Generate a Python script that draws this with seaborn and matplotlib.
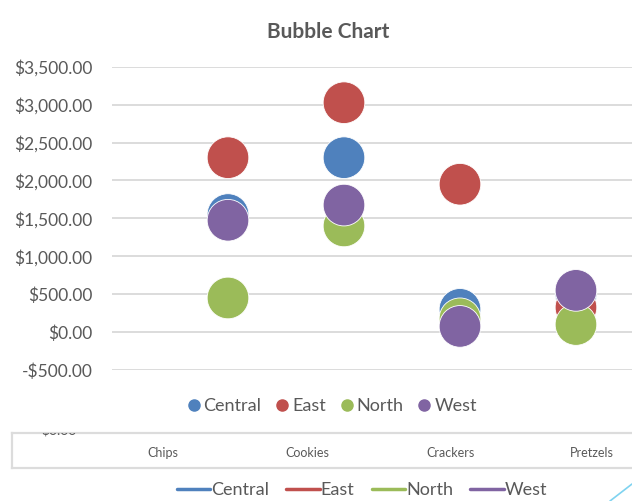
import matplotlib
matplotlib.use("Agg")
import matplotlib.pyplot as plt
from matplotlib.lines import Line2D
import seaborn as sns
import pandas as pd

categories = ["Chips", "Cookies", "Crackers", "Pretzels"]
regions = ["Central", "East", "North", "West"]
central = [1550, 2300, 300, 500]
east = [2300, 3025, 1950, 325]
north = [450, 1400, 175, 100]
west = [1475, 1675, 75, 550]
y_ticks = [-500, 0, 500, 1000, 1500, 2000, 2500, 3000, 3500]
colors = ["#4f81bd", "#c0504d", "#9bbb59", "#8064a2"]

rows = []
for reg, vals in zip(regions, [central, east, north, west]):
    for i, v in enumerate(vals):
        rows.append({"Region": reg, "pos": i + 1, "Sales": v})
df = pd.DataFrame(rows)

sns.set_theme(style="white")
plt.rcParams["font.family"] = ["Lato", "DejaVu Sans"]
txt = "#595959"

W, H = 632, 501
fig = plt.figure(figsize=(W / 100, H / 100), dpi=100)

ax = fig.add_axes([112 / W, 1 - 370 / H, 1 - 112 / W, (370 - 66.7) / H])
sns.scatterplot(data=df, x="pos", y="Sales", hue="Region", hue_order=regions,
                palette=colors, s=900, linewidth=0.6, edgecolor="white",
                ax=ax, legend=False, clip_on=False, zorder=3)
ax.set_xlim(0, 4.483)
ax.set_ylim(-500, 3500)
ax.set_yticks(y_ticks)
ax.set_yticklabels([("-$" if t < 0 else "$") + f"{abs(t):,.2f}" for t in y_ticks],
                   color=txt, fontsize=12.5)
ax.tick_params(axis="y", length=0, pad=14)
ax.set_xticks([])
ax.set_xlabel("")
ax.set_ylabel("")
for sp in ax.spines.values():
    sp.set_visible(False)
ax.grid(axis="y", color="#d9d9d9", linewidth=1.3)
ax.set_axisbelow(True)

fig.text(328 / W, 1 - 32 / H, "Bubble Chart", ha="center", va="center",
         fontsize=15, fontweight="bold", color=txt)

h1 = [Line2D([], [], marker="o", linestyle="", color=c, markersize=8) for c in colors]
fig.legend(h1, regions, loc="center", bbox_to_anchor=(332 / W, 1 - 406 / H),
           ncol=4, frameon=False, fontsize=13, handlelength=0.7,
           handletextpad=0.2, columnspacing=0.8, labelcolor=txt)

# lower fragment of a second chart
ax2 = fig.add_axes([12 / W, 1 - 468 / H, 1 - 12 / W + 0.01, (468 - 432.5) / H])
ax2.set_xlim(0, 1)
ax2.set_ylim(0, 1)
ax2.set_xticks([])
ax2.set_yticks([])
for sp in ax2.spines.values():
    sp.set_color("#dcdcdc")
    sp.set_linewidth(1.6)
ax2.text((58 - 12) / 620, 1.05, "$0.00", ha="center", va="center",
         fontsize=10, color=txt, clip_on=True)
for x, lab in zip([161, 304, 446, 586], categories):
    ax2.text((x - 12) / 620, 0.42, lab, ha="center", va="center",
             fontsize=9, color=txt)

h2 = [Line2D([], [], color=c, linewidth=2.5) for c in colors]
fig.legend(h2, regions, loc="center", bbox_to_anchor=(362 / W, 1 - 490 / H),
           ncol=4, frameon=False, fontsize=13, handlelength=1.85,
           handletextpad=0.05, columnspacing=0.95, labelcolor=txt)

fig.add_artist(Line2D([610 / W, 1.0], [0, 17 / H], color="#7fd3f0",
                      linewidth=1.2, transform=fig.transFigure))

fig.savefig("out.png", dpi=100)
